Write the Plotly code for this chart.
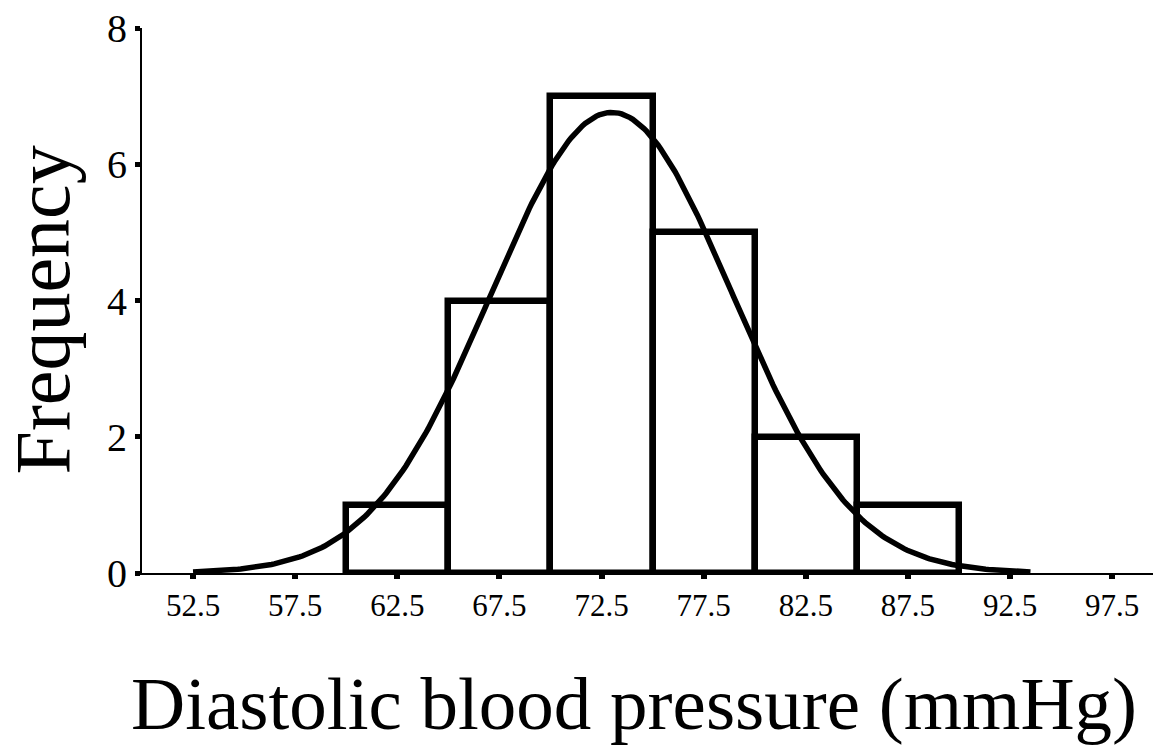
import numpy as np
import plotly.graph_objects as go

# Histogram data (bin centres, counts)
bin_centers = [62.5, 67.5, 72.5, 77.5, 82.5, 87.5]
counts = [1, 4, 7, 5, 2, 1]
bin_width = 5
x_ticks = [52.5, 57.5, 62.5, 67.5, 72.5, 77.5, 82.5, 87.5, 92.5, 97.5]
y_ticks = [0, 2, 4, 6, 8]

# Fitted normal curve parameters
fit_mean = 73.0
fit_sd = 5.9
n_obs = sum(counts)

xc = np.linspace(fit_mean - 20.5, fit_mean + 20.5, 300)
yc = n_obs * bin_width / (fit_sd * np.sqrt(2 * np.pi)) * np.exp(-0.5 * ((xc - fit_mean) / fit_sd) ** 2)

serif = "Liberation Serif, Times New Roman, serif"

fig = go.Figure()
fig.add_trace(go.Bar(
    x=bin_centers, y=counts, width=bin_width,
    marker=dict(color="white", line=dict(color="black", width=6.5)),
    cliponaxis=False, showlegend=False,
))
fig.add_trace(go.Scatter(
    x=xc, y=yc, mode="lines",
    line=dict(color="black", width=5.5),
    cliponaxis=False, showlegend=False,
))

fig.update_layout(
    width=1158, height=747,
    margin=dict(l=142, r=5, t=28, b=174),
    paper_bgcolor="white", plot_bgcolor="white",
    font=dict(family=serif, color="black"),
    bargap=0,
    xaxis=dict(
        range=[50, 99.5], tickvals=x_ticks, ticktext=[f"{v:.1f}" for v in x_ticks],
        ticks="outside", ticklen=4, tickwidth=6, tickcolor="black",
        showline=True, linecolor="black", linewidth=2,
        showgrid=False, zeroline=False,
        tickfont=dict(family=serif, size=31, color="black"),
    ),
    yaxis=dict(
        range=[0, 8], tickvals=y_ticks,
        ticks="outside", ticklen=5, tickwidth=5, tickcolor="black",
        showline=True, linecolor="black", linewidth=2,
        showgrid=False, zeroline=False,
        tickfont=dict(family=serif, size=40, color="black"),
    ),
    annotations=[
        dict(text="Diastolic blood pressure (mmHg)", xref="paper", yref="paper",
             x=0.487, y=0, xanchor="center", yanchor="top", yshift=-87,
             showarrow=False, font=dict(family=serif, size=75, color="black")),
        dict(text="Frequency", xref="paper", yref="paper",
             x=0, y=0.5, xanchor="center", yanchor="middle", xshift=-100, yshift=-10,
             textangle=-90, showarrow=False,
             font=dict(family=serif, size=78, color="black")),
    ],
)

fig.write_html("out.html")
